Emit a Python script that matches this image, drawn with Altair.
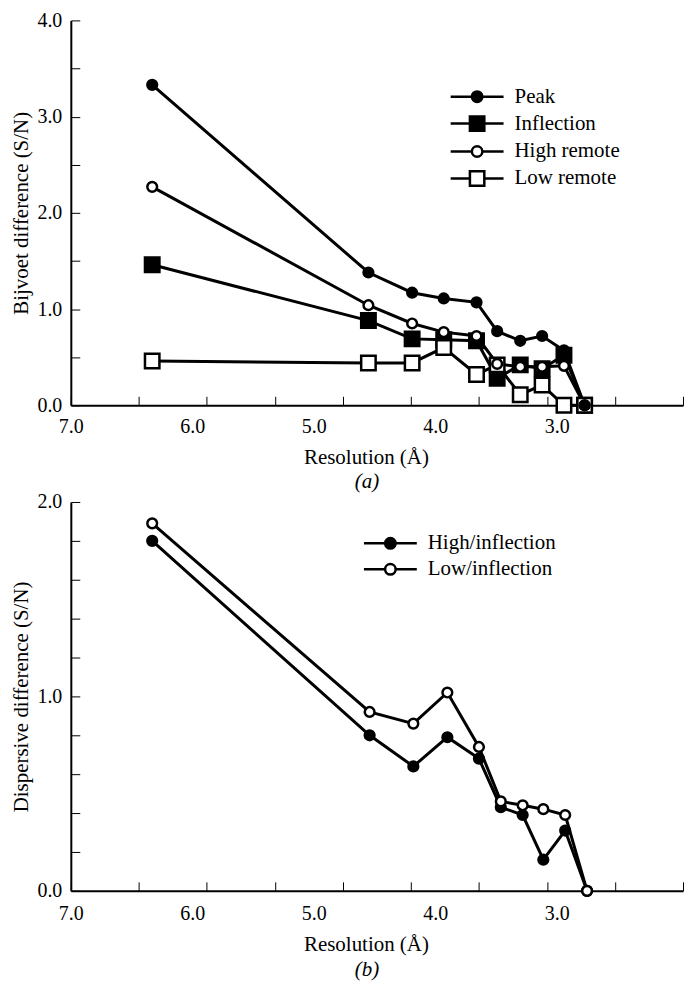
import altair as alt
import pandas as pd

# ---------------- data ----------------
# Panel (a): Bijvoet differences
res_a = [6.33, 4.55, 4.19, 3.93, 3.66, 3.49, 3.30, 3.12, 2.94, 2.77]
peak = [3.33, 1.38, 1.17, 1.11, 1.07, 0.77, 0.67, 0.72, 0.57, 0.0]
inflection = [1.46, 0.88, 0.69, 0.68, 0.67, 0.28, 0.42, 0.38, 0.52, 0.0]
high_remote = [2.27, 1.04, 0.85, 0.76, 0.72, 0.43, 0.40, 0.40, 0.41, 0.0]
low_remote = [0.46, 0.44, 0.44, 0.60, 0.32, 0.42, 0.11, 0.21, 0.0, 0.0]
series_a = ["Peak", "Inflection", "High remote", "Low remote"]
draw_order_a = ["Inflection", "Low remote", "High remote", "Peak"]

# Panel (b): dispersive differences
res_b = [6.33, 4.54, 4.18, 3.90, 3.64, 3.46, 3.28, 3.11, 2.93, 2.75]
high_infl = [1.80, 0.80, 0.64, 0.79, 0.68, 0.43, 0.39, 0.16, 0.31, 0.0]
low_infl = [1.89, 0.92, 0.86, 1.02, 0.74, 0.46, 0.44, 0.42, 0.39, 0.0]
series_b = ["High/inflection", "Low/inflection"]

# axis tick / label values
x_tick_vals = [7.0, 6.44, 5.88, 5.32, 4.76, 4.20, 3.64, 3.08, 2.52, 1.96]
x_label_vals = [7.0, 6.0, 5.0, 4.0, 3.0]
ya_tick_vals = [0.0, 0.5, 1.0, 1.5, 2.0, 2.5, 3.0, 3.5, 4.0]
yb_tick_vals = [0.0, 0.2, 0.4, 0.6, 0.8, 1.0, 1.2, 1.4, 1.6, 1.8, 2.0]
y_label_vals = [0.0, 1.0, 2.0, 3.0, 4.0]

FONT = "Liberation Serif, Times New Roman, serif"
W = 614

# marker styles per series
shape_of = {"Peak": "circle", "Inflection": "square", "High remote": "circle", "Low remote": "square",
            "High/inflection": "circle", "Low/inflection": "circle"}
fill_of = {"Peak": "black", "Inflection": "black", "High remote": "white", "Low remote": "white",
           "High/inflection": "black", "Low/inflection": "white"}
SIZE_OF = {"circle": 95, "square": 210}

# legend symbols: line with marker (custom paths, unit = sqrt(size)/2)
P_CIRCLE = "M-3.12 0H-0.62M0.62 0H3.12M-0.62 0A0.62 0.62 0 1 0 0.62 0A0.62 0.62 0 1 0 -0.62 0Z"
P_SQUARE = "M-3.12 0H-0.85M0.85 0H3.12M-0.85 -0.85H0.85V0.85H-0.85Z"
path_of = {"circle": P_CIRCLE, "square": P_SQUARE}


def x_axis(label_pad, title_pad):
    vals = sorted(set(x_tick_vals + x_label_vals), reverse=True)
    labs = ",".join(str(v) for v in x_label_vals)
    hide = ",".join(str(v) for v in x_label_vals if v not in x_tick_vals)
    return alt.Axis(
        values=vals,
        labelExpr=f"indexof([{labs}], datum.value) >= 0 ? format(datum.value, '.1f') : ''",
        tickOpacity={"condition": {"test": f"indexof([{hide}], datum.value) >= 0", "value": 0}, "value": 1},
        tickSize={"expr": "-9"},
        tickWidth=1,
        tickColor="black",
        domainWidth=2,
        domainColor="black",
        labelFont=FONT,
        labelFontSize=20,
        labelColor="black",
        labelPadding=label_pad,
        labelFlush=False,
        labelOverlap=False,
        grid=False,
        title="Resolution (Å)",
        titleFont=FONT,
        titleFontSize=21,
        titleFontWeight="normal",
        titleColor="black",
        titlePadding=title_pad,
        titleX=296,
    )


def y_axis(ticks, title):
    labs = ",".join(str(v) for v in y_label_vals)
    return alt.Axis(
        values=ticks,
        labelExpr=f"indexof([{labs}], datum.value) >= 0 ? format(datum.value, '.1f') : ''",
        tickSize={"expr": "-9"},
        tickWidth=1,
        tickColor="black",
        domainWidth=2,
        domainColor="black",
        labelFont=FONT,
        labelFontSize=20,
        labelColor="black",
        labelPadding=18,
        labelFlush=False,
        labelOverlap=False,
        grid=False,
        title=title,
        titleFont=FONT,
        titleFontSize=21,
        titleFontWeight="normal",
        titleColor="black",
        titlePadding=5,
    )


def panel(df, order, draw_order, ymax, yticks, ytitle, leg_x, leg_y, row_pad, letter, height,
          label_pad, title_pad):
    xenc = alt.X("res:Q", scale=alt.Scale(domain=[7.0, 1.96], nice=False, zero=False),
                 axis=x_axis(label_pad, title_pad))
    yenc = alt.Y("value:Q", scale=alt.Scale(domain=[0, ymax], nice=False, zero=False), axis=y_axis(yticks, ytitle))

    layers = [
        alt.Chart(df).mark_line(color="black", strokeWidth=3).encode(x=xenc, y=yenc, detail="series:N")
    ]
    for name in draw_order:
        shp = shape_of[name]
        layers.append(
            alt.Chart(df).transform_filter(alt.datum.series == name).mark_point(
                shape=shp, size=SIZE_OF[shp], filled=True, fill=fill_of[name],
                stroke="black", strokeWidth=2.5, opacity=1,
            ).encode(x=xenc, y=yenc)
        )
    leg = alt.Legend(
        orient="none", legendX=leg_x, legendY=leg_y, title=None, padding=0,
        symbolSize=289, symbolStrokeWidth=2.5, symbolStrokeColor="black", symbolOpacity=1,
        labelFont=FONT, labelFontSize=21, labelColor="black", labelOffset=27,
        rowPadding=row_pad,
    )
    layers.append(
        alt.Chart(df).transform_filter("false").mark_point(
            filled=True, opacity=1, strokeWidth=2.5
        ).encode(
            x=xenc,
            y=yenc,
            shape=alt.Shape("series:N", scale=alt.Scale(domain=order, range=[path_of[shape_of[s]] for s in order]), legend=leg),
            fill=alt.Fill("series:N", scale=alt.Scale(domain=order, range=[fill_of[s] for s in order]), legend=leg),
            stroke=alt.Stroke("series:N", scale=alt.Scale(domain=order, range=["black"] * len(order)), legend=leg),
        )
    )
    return alt.layer(*layers).properties(
        width=W,
        height=height,
        title=alt.TitleParams(
            text=letter, orient="bottom", anchor="middle", font=FONT, fontSize=21,
            fontStyle="italic", fontWeight="normal", color="black", offset=4, dx=-10,
        ),
    )


def long_df(res, cols, names):
    rows = []
    for name, vals in zip(names, cols):
        for r, v in zip(res, vals):
            rows.append({"res": r, "value": v, "series": name})
    return pd.DataFrame(rows)


df_a = long_df(res_a, [peak, inflection, high_remote, low_remote], series_a)
df_b = long_df(res_b, [high_infl, low_infl], series_b)

chart_a = panel(df_a, series_a, draw_order_a, 4.0, ya_tick_vals, "Bijvoet difference (S/N)",
                397, 66, 4, "(a)", 386, 20, 10)
chart_b = panel(df_b, series_b, series_b, 2.0, yb_tick_vals, "Dispersive difference (S/N)",
                310, 31, 4, "(b)", 390, 22, 10)

chart = alt.vconcat(chart_a, chart_b, spacing=0).resolve_scale(
    shape="independent", fill="independent", stroke="independent"
).properties(
    padding={"left": 3, "top": 1, "right": 0, "bottom": 0},
    background="white",
).configure_view(stroke=None)

chart.save("out.html", embed_options={"renderer": "svg", "actions": False})
